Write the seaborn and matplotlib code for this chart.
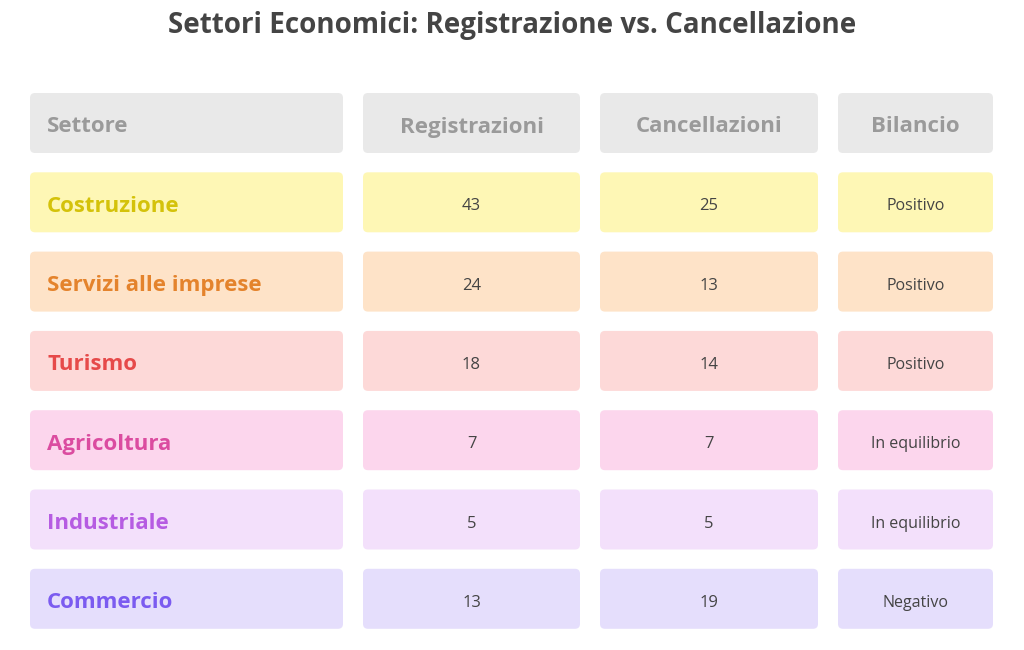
import matplotlib
matplotlib.use("Agg")
import matplotlib.pyplot as plt
from matplotlib.patches import FancyBboxPatch
import seaborn as sns

settori = ["Costruzione", "Servizi alle imprese", "Turismo", "Agricoltura", "Industriale", "Commercio"]
registrazioni = [43, 24, 18, 7, 5, 13]
cancellazioni = [25, 13, 14, 7, 5, 19]
bilancio = ["Positivo", "Positivo", "Positivo", "In equilibrio", "In equilibrio", "Negativo"]
intestazioni = ["Settore", "Registrazioni", "Cancellazioni", "Bilancio"]

fill_colors = ["#fef7b5", "#fee3c8", "#fdd9d8", "#fcd6ed", "#f3e0fb", "#e5defc"]
text_colors = ["#d4c20a", "#e4832c", "#e64a4a", "#db4ca0", "#b65ce2", "#7b5bf0"]

sns.set_theme(style="white")
plt.rcParams['font.family'] = ['Open Sans', 'DejaVu Sans']

fig = plt.figure(figsize=(10.24, 6.5), dpi=100)
ax = fig.add_axes([0, 0, 1, 1])
ax.set_xlim(0, 1024)
ax.set_ylim(650, 0)
ax.axis("off")

cols = [(30, 343), (363, 580), (600, 818), (838, 993)]
row_top = 93
pitch = 79.3
h = 60
dy = 4  # font baseline correction


def cell(x0, x1, y0, color):
    ax.add_patch(FancyBboxPatch((x0 + 5, y0 + 5), x1 - x0 - 10, h - 10,
                                boxstyle="round,pad=5", fc=color, ec="none"))


ax.text(512, 22 + dy, "Settori Economici: Registrazione vs. Cancellazione", ha="center", va="center",
        fontsize=20, fontweight="bold", color="#444444")

# header
for (x0, x1), lab in zip(cols, intestazioni):
    cell(x0, x1, row_top, "#e9e9e9")
    if lab == "Settore":
        ax.text(x0 + 17, row_top + h / 2 + dy, lab, ha="left", va="center", fontsize=16,
                fontweight="bold", color="#9a9a9a")
    else:
        ax.text((x0 + x1) / 2, row_top + h / 2 + dy, lab, ha="center", va="center", fontsize=16,
                fontweight="bold", color="#9a9a9a")

for i, s in enumerate(settori):
    y0 = row_top + (i + 1) * pitch
    yc = y0 + h / 2 + dy
    for x0, x1 in cols:
        cell(x0, x1, y0, fill_colors[i])
    ax.text(cols[0][0] + 17, yc, s, ha="left", va="center", fontsize=16,
            fontweight="bold", color=text_colors[i])
    ax.text(sum(cols[1]) / 2, yc, str(registrazioni[i]), ha="center", va="center",
            fontsize=12, color="#444444")
    ax.text(sum(cols[2]) / 2, yc, str(cancellazioni[i]), ha="center", va="center",
            fontsize=12, color="#444444")
    ax.text(sum(cols[3]) / 2, yc, bilancio[i], ha="center", va="center",
            fontsize=11.5, color="#444444")

fig.savefig("out.png", dpi=100)
